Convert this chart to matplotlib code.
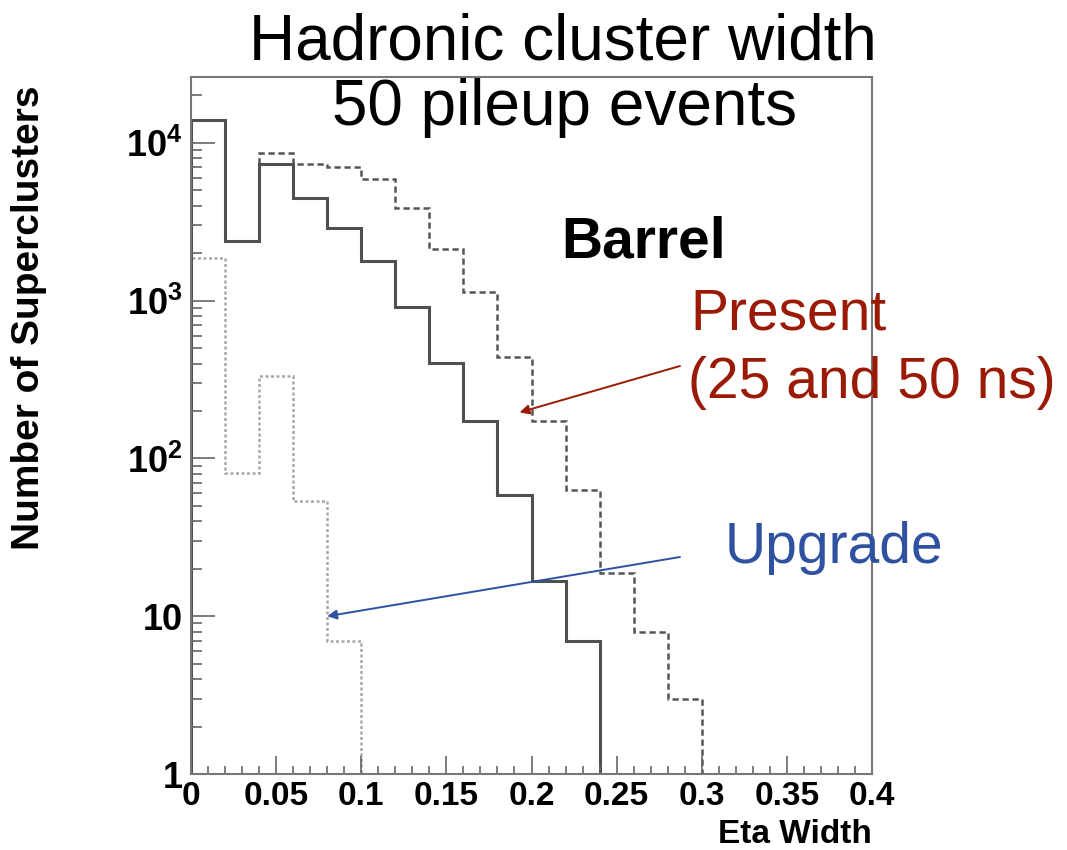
import numpy as np
import matplotlib
matplotlib.use("Agg")
import matplotlib.pyplot as plt
from matplotlib.ticker import FixedLocator, FixedFormatter, MultipleLocator, LogLocator, NullFormatter

plt.rcParams['font.family'] = ['Liberation Sans', 'DejaVu Sans']
plt.rcParams['mathtext.fontset'] = 'custom'
plt.rcParams['mathtext.rm'] = 'Liberation Sans'
plt.rcParams['mathtext.bf'] = 'Liberation Sans:bold'

# eta width histograms, bins of 0.02
bin_width = 0.02
present_25ns = [14000, 2400, 8640, 7330, 7010, 5910, 3850, 2115, 1137, 440,
                174, 63, 18.7, 8.0, 3.0]
present_50ns = [14000, 2400, 7330, 4455, 2873, 1790, 914, 403, 172.6, 58.8,
                16.8, 7.0]
upgrade = [1870, 80.7, 333, 53.6, 7.0]

x_ticks = [0, 0.05, 0.1, 0.15, 0.2, 0.25, 0.3, 0.35, 0.4]
x_ticklabels = ['0', '0.05', '0.1', '0.15', '0.2', '0.25', '0.3', '0.35', '0.4']
y_ticks = [1, 10, 100, 1000, 10000]
y_ticklabels = ['1', '10', r'$\mathbf{10^{2}}$', r'$\mathbf{10^{3}}$', r'$\mathbf{10^{4}}$']

W, H = 1067, 850
fig = plt.figure(figsize=(W / 100, H / 100), dpi=100)
ax = fig.add_axes([191 / W, 1 - 774 / H, (872 - 191) / W, (774 - 77) / H])


def edges(vals):
    return np.arange(len(vals) + 1) * bin_width


ax.stairs(upgrade, edges(upgrade), baseline=1, color='#a8a8a8', lw=1.8,
          linestyle=(0, (1.2, 1.0)))
ax.stairs(present_25ns, edges(present_25ns), baseline=1, color='#555555', lw=1.8,
          linestyle=(0, (2.5, 1.5)))
ax.stairs(present_50ns, edges(present_50ns), baseline=1, color='#505050', lw=2.2)

ax.set_yscale('log')
ax.set_xlim(0, 0.4)
ax.set_ylim(1, 2.62e4)

ax.xaxis.set_major_locator(FixedLocator(x_ticks))
ax.xaxis.set_major_formatter(FixedFormatter(x_ticklabels))
ax.xaxis.set_minor_locator(MultipleLocator(0.01))
ax.yaxis.set_major_locator(FixedLocator(y_ticks))
ax.yaxis.set_major_formatter(FixedFormatter(y_ticklabels))
ax.yaxis.set_minor_locator(LogLocator(base=10, subs=np.arange(2, 10)))
ax.yaxis.set_minor_formatter(NullFormatter())

ax.tick_params(axis='both', which='both', direction='in', color='#666666', width=1.2)
ax.tick_params(axis='x', which='major', length=13, pad=5)
ax.tick_params(axis='x', which='minor', length=6)
ax.tick_params(axis='y', which='major', length=17, pad=6)
ax.tick_params(axis='y', which='minor', length=8)
for lab in ax.get_xticklabels():
    lab.set_fontsize(24)
    lab.set_fontweight('bold')
for lab in ax.get_yticklabels():
    lab.set_fontsize(26)
    lab.set_fontweight('bold')

for s in ax.spines.values():
    s.set_color('#777777')
    s.set_linewidth(1.5)

ax.set_ylabel('Number of Superclusters', fontsize=28, fontweight='bold', labelpad=6)
ax.yaxis.set_label_coords(-0.212, 0.655)
fig.text(872 / W, 1 - 843 / H, 'Eta Width', fontsize=24, fontweight='bold',
         ha='right', va='baseline')

# titles and annotations
fig.text(563 / W, 1 - 60 / H, 'Hadronic cluster width', fontsize=46,
         ha='center', va='baseline')
fig.text(564 / W, 1 - 125 / H, '50 pileup events', fontsize=46,
         ha='center', va='baseline')
fig.text(561 / W, 1 - 257 / H, 'Barrel', fontsize=41, fontweight='bold',
         ha='left', va='baseline')

red = '#9b1a06'
blue = '#2f52a0'
fig.text(690 / W, 1 - 330 / H, 'Present', fontsize=41, color=red,
         ha='left', va='baseline')
fig.text(688 / W, 1 - 398 / H, '(25 and 50 ns)', fontsize=41, color=red,
         ha='left', va='baseline')
fig.text(725 / W, 1 - 563 / H, 'Upgrade', fontsize=41, color=blue,
         ha='left', va='baseline')

ax.annotate('', xy=(0.193, 196), xycoords='data',
            xytext=(680 / W, 1 - 366 / H), textcoords='figure fraction',
            arrowprops=dict(arrowstyle='-|>', color=red, lw=1.4,
                            mutation_scale=14, shrinkA=0, shrinkB=0))
ax.annotate('', xy=(0.08, 10), xycoords='data',
            xytext=(680 / W, 1 - 557 / H), textcoords='figure fraction',
            arrowprops=dict(arrowstyle='-|>', color=blue, lw=1.4,
                            mutation_scale=14, shrinkA=0, shrinkB=0))

fig.savefig('out.png', dpi=100, facecolor='white')
